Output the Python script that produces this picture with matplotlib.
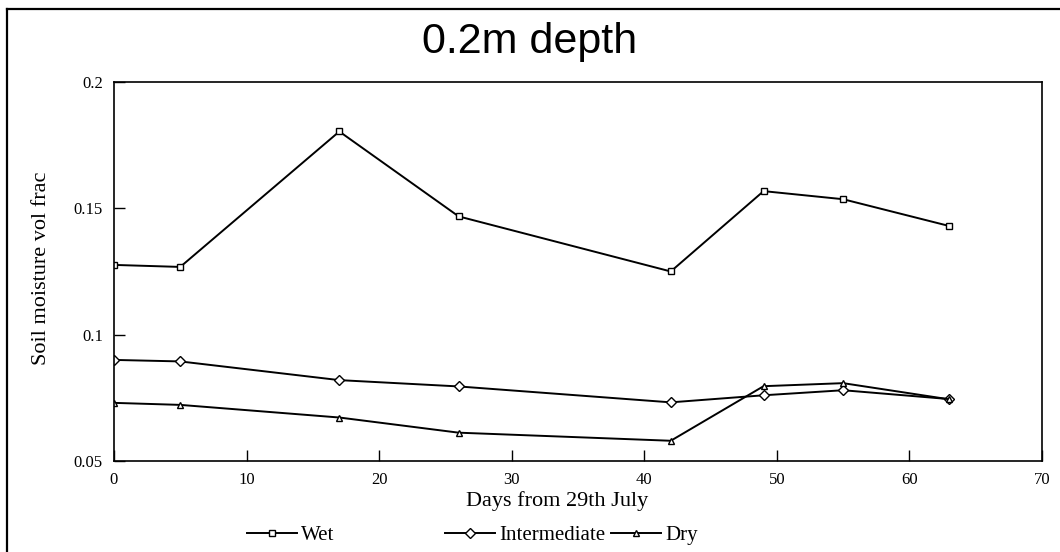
"""
Soil moisture at 0.2m depth for the three plots (Wet, Intermediate, Dry).
"""
import matplotlib
matplotlib.use('Agg')
import matplotlib.pyplot as plt
from matplotlib.lines import Line2D

# days from 29th July
days = [0, 5, 17, 26, 42, 49, 55, 63]

wet = [0.1276, 0.1268, 0.1804, 0.1468, 0.1250, 0.1568, 0.1536, 0.1430]
intermediate = [0.0900, 0.0894, 0.0820, 0.0795, 0.0732, 0.0760, 0.0780, 0.0745]
dry = [0.0730, 0.0722, 0.0672, 0.0612, 0.0580, 0.0796, 0.0808, 0.0744]

x_ticks = [0, 10, 20, 30, 40, 50, 60, 70]
y_ticks = [0.05, 0.1, 0.15, 0.2]
y_labels = ['0.05', '0.1', '0.15', '0.2']

serif = 'Liberation Serif'

fig = plt.figure(figsize=(10.6, 5.52), dpi=100)
ax = fig.add_axes([0.1075, 0.1649, 0.8755, 0.6866])

line_kw = dict(color='black', linewidth=1.4, markerfacecolor='white',
               markeredgecolor='black', markeredgewidth=1.0)
h_wet, = ax.plot(days, wet, marker='s', markersize=4, label='Wet', **line_kw)
h_int, = ax.plot(days, intermediate, marker='D', markersize=5.5,
                 label='Intermediate', **line_kw)
h_dry, = ax.plot(days, dry, marker='^', markersize=4, label='Dry', **line_kw)

ax.set_xlim(0, 70)
ax.set_ylim(0.05, 0.2)
ax.set_xticks(x_ticks)
ax.set_yticks(y_ticks)
ax.set_yticklabels(y_labels)
ax.tick_params(direction='in', length=8, width=1.0, labelsize=12)
ax.tick_params(axis='x', pad=8)
ax.tick_params(axis='y', pad=8)
for lab in ax.get_xticklabels() + ax.get_yticklabels():
    lab.set_fontfamily(serif)
for sp in ax.spines.values():
    sp.set_linewidth(1.2)

fig.text(0.5 + 27 / 1060, 1 - 501 / 552, 'Days from 29th July', ha='center',
         va='center', fontsize=16, family=serif)
fig.text(42 / 1060, 1 - 268 / 552, 'Soil moisture vol frac', ha='center',
         va='center', rotation=90, fontsize=16, family=serif)
fig.text(0.5, 1 - 42 / 552, '0.2m depth', ha='center', va='center',
         fontsize=31, family='Liberation Sans')

# legend entries sit at uneven positions, so one legend per series
leg_y = 1 - 535 / 552
for h, x0 in [(h_wet, 247), (h_int, 445), (h_dry, 611)]:
    leg = fig.legend(handles=[h], loc='center left',
                     bbox_to_anchor=(x0 / 1060, leg_y), frameon=False,
                     handlelength=2.4, handletextpad=0.2, borderpad=0,
                     borderaxespad=0, prop={'family': serif, 'size': 15})

# outer frame of the scanned page
fx, fy = 7 / 1060, 1 - 9 / 552
fig.add_artist(Line2D([fx, fx], [0, fy], color='black', linewidth=1.6))
fig.add_artist(Line2D([fx, 1], [fy, fy], color='black', linewidth=1.6))

fig.savefig('out.png', dpi=100, facecolor='white')
